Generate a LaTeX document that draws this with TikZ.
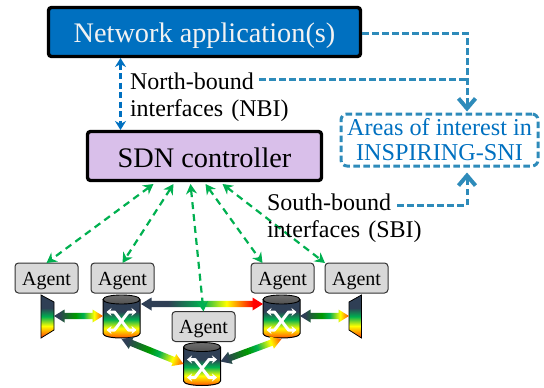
\documentclass[tikz,border=0pt]{standalone}
\usepackage{fontspec}
\setmainfont{Liberation Serif}
\usetikzlibrary{arrows.meta,calc}
\definecolor{teal1}{HTML}{2E8BBA}
\definecolor{blue1}{HTML}{0070C0}
\definecolor{green1}{HTML}{00B050}
\definecolor{slate1}{HTML}{2F3F55}
\definecolor{lav1}{HTML}{D9BFEA}
\pgfdeclarehorizontalshading{heatx}{100bp}{color(0bp)=(slate1); color(25bp)=(slate1); color(36bp)=(slate1); color(50bp)=(green1); color(60bp)=(yellow); color(71bp)=(red); color(100bp)=(red)}
\pgfdeclarehorizontalshading{heatorange}{100bp}{color(0bp)=(slate1); color(25bp)=(slate1); color(30bp)=(slate1); color(47bp)=(green!60!black); color(55bp)=(green1); color(66bp)=(yellow); color(75bp)=(orange!60!red); color(100bp)=(orange!60!red)}
\pgfdeclareverticalshading{heaty}{100bp}{color(0bp)=(orange!40!red); color(25bp)=(orange!40!red); color(30bp)=(orange); color(39bp)=(yellow); color(50bp)=(green1); color(60bp)=(slate1); color(100bp)=(slate1)}
\pgfdeclareverticalshading{capy}{100bp}{color(0bp)=(black!70); color(25bp)=(black!70); color(75bp)=(black!55); color(100bp)=(black!55)}
\tikzset{
  x=1pt,y=-1pt,
  agentbox/.style={draw=black!80,fill=black!15,rounded corners=3.5pt,line width=1pt,minimum width=63pt,minimum height=30pt,inner sep=0pt,outer sep=0pt,text height=14pt,text depth=0pt,font=\fontsize{20}{22}\selectfont},
  mainbox/.style={draw=black,line width=3.4pt,rounded corners=3pt,inner sep=0pt,outer sep=1.5pt,text depth=0pt,font=\fontsize{28.3}{30}\selectfont},
  anchorbox/.style={minimum width=37pt,minimum height=43pt,inner sep=0pt,outer sep=0pt},
  labeltext/.style={inner sep=0pt,outer sep=0pt,align=left,font=\fontsize{24}{27}\selectfont},
  sbilink/.style={green1,line width=2.2pt,dash pattern=on 7pt off 5pt,{Stealth[length=10pt,width=11pt]}-{Stealth[length=10pt,width=11pt]}},
  nbilink/.style={blue1,line width=2.2pt,dash pattern=on 6pt off 3.5pt,{Stealth[length=9pt,width=11pt]}-{Stealth[length=9pt,width=11pt]}},
  arealine/.style={teal1,line width=3pt,dash pattern=on 6.5pt off 3.5pt},
  areaarrow/.style={arealine,-{Straight Barb[length=10pt,width=17pt,line width=4pt]}},
  xarrow/.style={white,line width=3pt,line join=round,{Stealth[length=5pt,width=8pt]}-{Stealth[length=5pt,width=8pt]}},
}
\newcommand{\swdevice}[2]{%
  \node[anchorbox] (#1) at #2 {};
  \begin{scope}[shift={(#1.center)}]
    \shade[shading=heaty] (-18.5,-17) -- (-18.5,17) .. controls (-18.5,23) and (18.5,23) .. (18.5,17) -- (18.5,-17) -- cycle;
    \draw[black,line width=1pt] (-18.5,-17) -- (-18.5,17) .. controls (-18.5,23) and (18.5,23) .. (18.5,17) -- (18.5,-17);
    \shade[shading=capy] (-18.5,-17) .. controls (-18.5,-23) and (18.5,-23) .. (18.5,-17) .. controls (18.5,-11) and (-18.5,-11) .. (-18.5,-17) -- cycle;
    \draw[black,line width=.9pt] (-18.5,-17) .. controls (-18.5,-23) and (18.5,-23) .. (18.5,-17) .. controls (18.5,-11) and (-18.5,-11) .. (-18.5,-17) -- cycle;
    \draw[xarrow] (-15,-4.5) -- (-7,-4.5) -- (7,13.5) -- (15,13.5);
    \draw[xarrow] (15,-4.5) -- (7,-4.5) -- (-7,13.5) -- (-15,13.5);
  \end{scope}}
\newcommand{\heatlink}[3]{%
  \path let \p1=(#2), \p2=(#3), \n1={atan2(\y2-\y1,\x2-\x1)}, \n2={veclen(\x2-\x1,\y2-\y1)} in
    \pgfextra{\xdef\hlang{\n1}\xdef\hllen{\n2}\xdef\hlx{\x1}\xdef\hly{\y1}};
  \begin{scope}[transform canvas={shift={(\hlx,\hly)},rotate=\hlang}]
    \shade[shading=#1] (0,0) -- (10.5,-6.5) -- (10.5,-3.2) -- (\hllen-10.5,-3.2) -- (\hllen-10.5,-6.5) -- (\hllen,0) -- (\hllen-10.5,6.5) -- (\hllen-10.5,3.2) -- (10.5,3.2) -- (10.5,6.5) -- cycle;
  \end{scope}}
\begin{document}
\begin{tikzpicture}
\useasboundingbox (0,0) rectangle (544,388);
% main boxes
\node[mainbox,fill=blue1,text=white!95!black,text height=20pt,minimum width=312pt,minimum height=49pt] (app) at (204.5,32) {Network application(s)};
\node[mainbox,fill=lav1,text height=22pt,minimum width=234pt,minimum height=49pt] (ctrl) at (204.5,156) {SDN controller};
% agents
\node[agentbox] (a1) at (46.5,278) {Agent};
\node[agentbox] (a2) at (122.5,278) {Agent};
\node[agentbox] (a3) at (203.5,326.5) {Agent};
\node[agentbox] (a4) at (282.5,278) {Agent};
\node[agentbox] (a5) at (356.5,278) {Agent};
% switches
\swdevice{s1}{(121.5,316.5)}
\swdevice{s2}{(281.5,316.5)}
\swdevice{s3}{(202,364)}
% end devices
\shade[shading=heaty] (41,295) -- (54,302) -- (54,330) -- (41,338) -- cycle;
\draw[black,line width=.8pt] (41,295) -- (54,302) -- (54,330) -- (41,338) -- cycle;
\shade[shading=heaty] (361.5,295) -- (349,302) -- (349,330) -- (361.5,338) -- cycle;
\draw[black,line width=.8pt] (361.5,295) -- (349,302) -- (349,330) -- (361.5,338) -- cycle;
\coordinate (e1) at (54,316);
\coordinate (e2) at (349,316);
% heat links
\heatlink{heatorange}{e1}{$(s1.west)+(0,-.5)$}
\heatlink{heatx}{$(s1.east)+(1,-12.5)$}{$(s2.west)+(0,-12.5)$}
\heatlink{heatorange}{$(s1.south)+(0,1)$}{$(s3.west)+(0,0)$}
\heatlink{heatorange}{$(s3.east)+(0,-2.5)$}{$(s2.south)+(0,1)$}
\heatlink{heatorange}{$(s2.east)+(0,-.5)$}{e2}
% SBI links
\coordinate (c1) at ($(ctrl.south)+(-51,2)$);
\coordinate (c2) at ($(ctrl.south)+(-31,2)$);
\coordinate (c3) at ($(ctrl.south)+(-14,2)$);
\coordinate (c4) at ($(ctrl.south)+(1,2)$);
\coordinate (c5) at ($(ctrl.south)+(18,2)$);
\draw[sbilink] (c1) -- (a1.north);
\draw[sbilink] (c2) -- (a2.north);
\draw[sbilink] (c3) -- (a3.north);
\draw[sbilink] (c4) -- ($(a4.north)+(-20,0)$);
\draw[sbilink] (c5) -- (a5.north west);
% NBI link
\coordinate (n1) at (app.south -| 120.5,0);
\coordinate (n2) at (ctrl.north -| 120.5,0);
\draw[nbilink] (n1) -- (n2);
% area box and labels
\node[draw=teal1,line width=3pt,dash pattern=on 6.5pt off 3.5pt,rounded corners=6pt,minimum width=197pt,minimum height=52pt,inner sep=0pt,outer sep=1.5pt,align=center,text=blue1,font=\fontsize{24.2}{25}\selectfont] (area) at (439.5,140) {Areas of interest in\\INSPIRING-SNI};
\node[labeltext,anchor=west] (nb) at (130,97) {North-bound\\interfaces\hspace{2pt} (NBI)};
\node[labeltext,anchor=west] (sb) at (267,218.5) {South-bound\\interfaces\hspace{2pt} (SBI)};
\coordinate (top) at (467,33);
\coordinate (mid) at (467,79);
\coordinate (low) at (467,205);
\coordinate (nbend) at (259,79);
\coordinate (sbend) at (397,205);
\draw[arealine] (nbend) -- (mid);
\draw[areaarrow] (app.east |- top) -- (top) -- ($(area.north -| top)+(0,-1)$);
\draw[areaarrow] (sbend) -- (low) -- ($(area.south -| low)+(0,5)$);
\end{tikzpicture}
\end{document}
